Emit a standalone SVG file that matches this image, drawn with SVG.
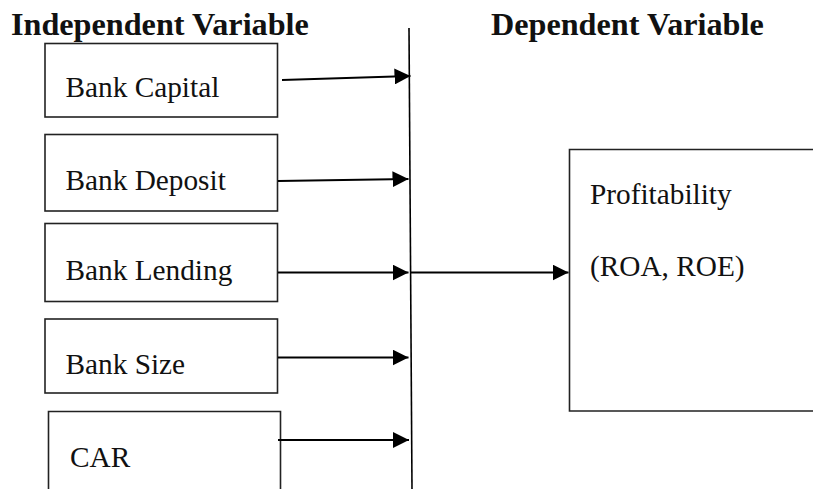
<svg xmlns="http://www.w3.org/2000/svg" width="813" height="489" viewBox="0 0 813 489">
<style>
.box{fill:none;stroke:#222;stroke-width:1.6}
.t{font-family:"Liberation Serif","Times New Roman",serif;font-size:29.3px;fill:#111}
.h{font-family:"Liberation Serif","Times New Roman",serif;font-size:32.2px;font-weight:bold;fill:#111}
.c{fill:none;stroke:#000;stroke-width:2;marker-end:url(#ah)}
</style>
<defs>
<marker id="ah" viewBox="0 0 16 16" refX="16" refY="8" markerWidth="16" markerHeight="16" markerUnits="userSpaceOnUse" orient="auto">
<path d="M0,0 L16,8 L0,16 Z" fill="#000"/>
</marker>
</defs>
<text class="h" x="11" y="35">Independent Variable</text>
<text class="h" x="491" y="35">Dependent Variable</text>
<g id="n1"><rect class="box" x="45" y="43.5" width="232.5" height="73.5"/><text class="t" x="65.5" y="96.5">Bank Capital</text></g>
<g id="n2"><rect class="box" x="45" y="134.5" width="232.5" height="76.5"/><text class="t" x="65.5" y="190">Bank Deposit</text></g>
<g id="n3"><rect class="box" x="45" y="223.5" width="232.5" height="78"/><text class="t" x="65.5" y="279.5">Bank Lending</text></g>
<g id="n4"><rect class="box" x="45" y="319" width="232.5" height="74"/><text class="t" x="65.5" y="374">Bank Size</text></g>
<g id="n5"><path class="box" d="M48.5,489 V411.5 H280.5 V489"/><text class="t" x="70" y="466.5">CAR</text></g>
<g id="n6"><path class="box" d="M820,149.5 H569.5 V411 H820"/><text class="t" x="590" y="204">Profitability</text><text class="t" x="590" y="276">(ROA, ROE)</text></g>
<g id="connectors">
<path d="M409,28 L412,489" fill="none" stroke="#000" stroke-width="1.6"/>
<path class="c" d="M282,80 L410.5,76"/>
<path class="c" d="M278,181 L408.5,179"/>
<path class="c" d="M278,272.5 L408.5,272.5"/>
<path class="c" d="M278,357.5 L408.5,357.5"/>
<path class="c" d="M278,440 L409,440"/>
<path class="c" d="M410,272.5 L568.5,272.5"/>
</g>
</svg>
